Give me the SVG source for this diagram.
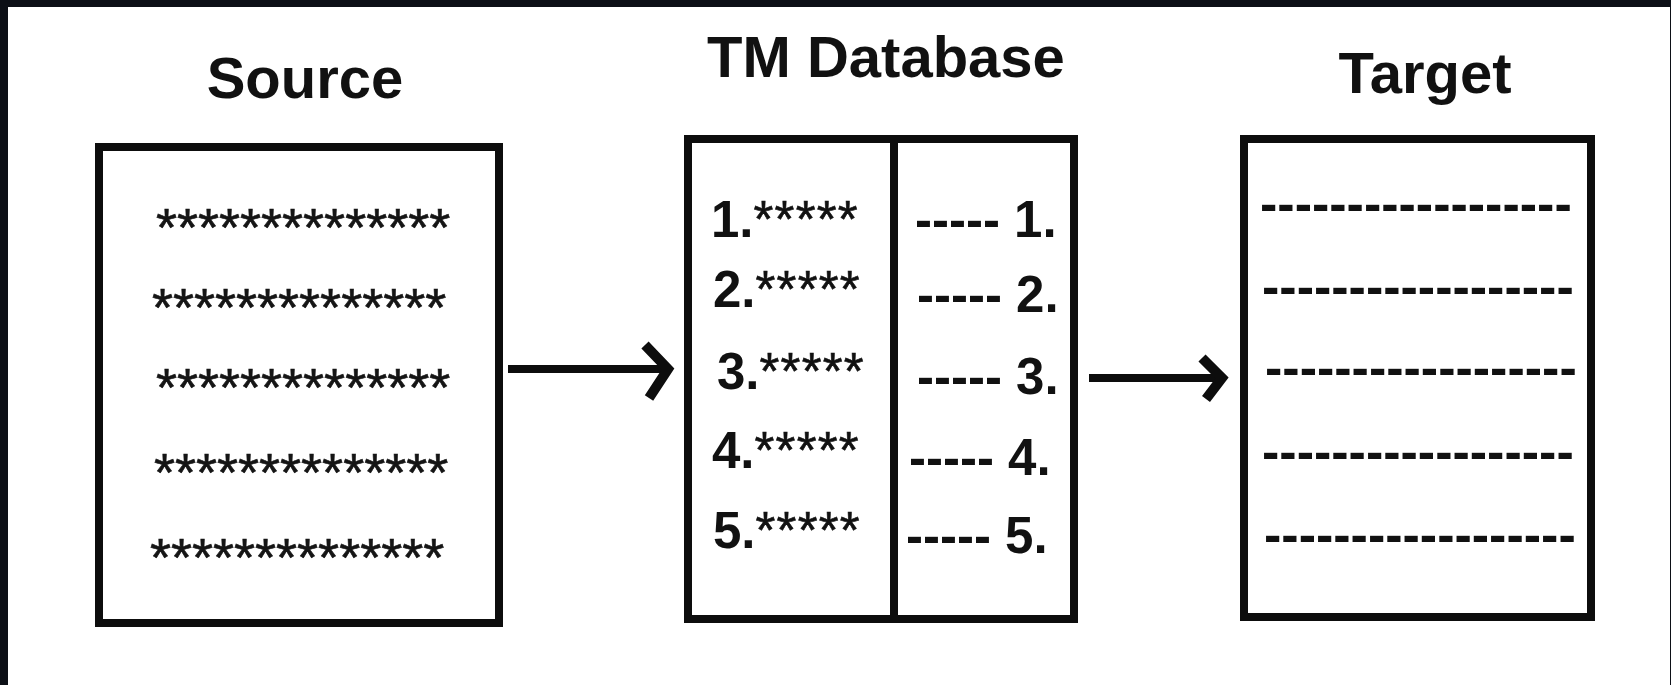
<svg xmlns="http://www.w3.org/2000/svg" width="1671" height="685" viewBox="0 0 1671 685">
<style>
.bg{fill:#0c0f16}
.paper{fill:#ffffff}
.box{fill:#ffffff;stroke:#0d0d0d;stroke-width:8}
.div{stroke:#0d0d0d;stroke-width:8;fill:none}
.title{font-family:"Liberation Sans",Arial,sans-serif;font-weight:bold;font-size:58px;fill:#111;text-anchor:middle}
.stars{font-family:"Liberation Sans",Arial,sans-serif;font-weight:normal;font-size:54px;fill:#151515;stroke:#151515;stroke-width:0.6}
.tm{font-family:"Liberation Sans",Arial,sans-serif;font-weight:bold;font-size:51px;fill:#111}
.st{font-weight:normal;letter-spacing:1.2px;stroke:#111;stroke-width:0.6}
.dash{font-family:"Liberation Sans",Arial,sans-serif;font-weight:bold;font-size:52px;fill:#111}
.shaft{stroke:#0d0d0d;stroke-width:8;fill:none}
.head{stroke:#0d0d0d;stroke-width:10;fill:none;stroke-linejoin:miter;stroke-miterlimit:4}
</style>
<rect class="bg" x="0" y="0" width="1671" height="685"/>
<rect class="paper" x="8" y="7" width="1662" height="678"/>

<g id="source">
  <text class="title" x="305" y="98">Source</text>
  <rect class="box" x="99" y="147" width="400" height="476"/>
  <text class="stars" x="156" y="246">**************</text>
  <text class="stars" x="152" y="326">**************</text>
  <text class="stars" x="156" y="406">**************</text>
  <text class="stars" x="154" y="491">**************</text>
  <text class="stars" x="150" y="576">**************</text>
</g>

<g id="tm-database">
  <text class="title" x="886" y="77">TM Database</text>
  <rect class="box" x="688" y="139" width="386" height="480"/>
  <line class="div" x1="894" y1="139" x2="894" y2="619"/>
  <text class="tm" x="711" y="237">1.<tspan class="st">*****</tspan></text>
  <text class="tm" x="713" y="307">2.<tspan class="st">*****</tspan></text>
  <text class="tm" x="717" y="389">3.<tspan class="st">*****</tspan></text>
  <text class="tm" x="712" y="468">4.<tspan class="st">*****</tspan></text>
  <text class="tm" x="713" y="548">5.<tspan class="st">*****</tspan></text>
  <text class="tm" x="915" y="237">----- 1.</text>
  <text class="tm" x="917" y="312">----- 2.</text>
  <text class="tm" x="917" y="394">----- 3.</text>
  <text class="tm" x="909" y="475">----- 4.</text>
  <text class="tm" x="906" y="553">----- 5.</text>
</g>

<g id="target">
  <text class="title" x="1425" y="93">Target</text>
  <rect class="box" x="1244" y="139" width="347" height="478"/>
  <text class="dash" x="1260" y="221">------------------</text>
  <text class="dash" x="1262" y="304">------------------</text>
  <text class="dash" x="1265" y="385">------------------</text>
  <text class="dash" x="1262" y="469">------------------</text>
  <text class="dash" x="1264" y="552">------------------</text>
</g>

<g id="connectors">
  <line class="shaft" x1="508" y1="369" x2="668" y2="369"/>
  <path class="head" d="M645,345 L668,369 L649,398"/>
  <line class="shaft" x1="1089" y1="378" x2="1222" y2="378"/>
  <path class="head" d="M1202,358 L1222,378 L1206,399"/>
</g>
</svg>
